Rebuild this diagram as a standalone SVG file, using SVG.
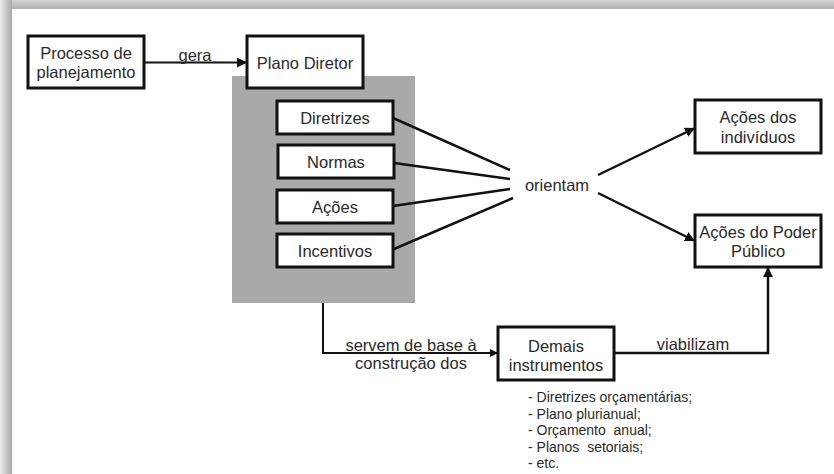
<svg xmlns="http://www.w3.org/2000/svg" width="834" height="474" viewBox="0 0 834 474">
<defs>
<linearGradient id="gTop" x1="0" y1="0" x2="0" y2="1">
<stop offset="0" stop-color="#d2d2d2"/><stop offset="1" stop-color="#b0b0b0"/>
</linearGradient>
<linearGradient id="gLeft" x1="0" y1="0" x2="1" y2="0">
<stop offset="0" stop-color="#ececec"/><stop offset="1" stop-color="#a8a8a8"/>
</linearGradient>
<marker id="ah" viewBox="0 0 10 10" refX="10" refY="5" markerWidth="10" markerHeight="10" markerUnits="userSpaceOnUse" orient="auto">
<path d="M0,0 L10,5 L0,10 z" fill="#111"/>
</marker>
<marker id="ahs" viewBox="0 0 10 10" refX="10" refY="5" markerWidth="8" markerHeight="8" markerUnits="userSpaceOnUse" orient="auto">
<path d="M0,0 L10,5 L0,10 z" fill="#111"/>
</marker>
</defs>
<style>
.box{fill:#fff;stroke:#111;stroke-width:3}
.t{font-family:"Liberation Sans",Arial,sans-serif;font-size:16.5px;fill:#2a2a2a;text-anchor:middle}
.l{font-family:"Liberation Sans",Arial,sans-serif;font-size:14px;fill:#2a2a2a;white-space:pre}
.c{fill:none;stroke:#111;stroke-width:2.5}
.c2{fill:none;stroke:#111;stroke-width:2}
</style>
<rect x="0" y="0" width="834" height="474" fill="#fff"/>
<rect x="0" y="0" width="834" height="9" fill="url(#gTop)"/>
<rect x="0" y="0" width="12" height="474" fill="url(#gLeft)"/>
<rect x="12" y="9" width="822" height="465" fill="#fff"/>

<g id="grupo-plano">
<rect x="232" y="76" width="183" height="227" fill="#a9a9a9"/>
</g>

<g id="connectors">
<line class="c2" x1="144" y1="62.5" x2="247" y2="62.5" marker-end="url(#ah)"/>
<line class="c" x1="393" y1="118" x2="510" y2="170"/>
<line class="c" x1="394" y1="163" x2="510" y2="179"/>
<line class="c" x1="393" y1="206" x2="510" y2="189"/>
<line class="c" x1="394" y1="249" x2="513" y2="198"/>
<line class="c" x1="598" y1="175" x2="695" y2="128" marker-end="url(#ah)"/>
<line class="c" x1="598" y1="193" x2="695" y2="241" marker-end="url(#ah)"/>
<polyline class="c2" points="323,303 323,353 498,353" marker-end="url(#ahs)"/>
<polyline class="c" points="614,353 768,353 768,267" marker-end="url(#ah)"/>
</g>

<g id="processo">
<rect class="box" x="28" y="36" width="116" height="52"/>
<text class="t" x="86" y="59">Processo de</text>
<text class="t" x="86" y="78">planejamento</text>
</g>
<text class="t" x="195" y="61">gera</text>

<g id="plano-diretor">
<rect class="box" x="247" y="36" width="116" height="52"/>
<text class="t" x="305" y="69">Plano Diretor</text>
</g>

<g id="diretrizes">
<rect class="box" x="277" y="101" width="116" height="33"/>
<text class="t" x="335" y="123.5">Diretrizes</text>
</g>
<g id="normas">
<rect class="box" x="278" y="145" width="116" height="33"/>
<text class="t" x="336" y="167.5">Normas</text>
</g>
<g id="acoes">
<rect class="box" x="277" y="190" width="116" height="33"/>
<text class="t" x="335" y="212.5">Ações</text>
</g>
<g id="incentivos">
<rect class="box" x="277" y="234" width="116" height="33"/>
<text class="t" x="335" y="256.5">Incentivos</text>
</g>

<g id="orientam">
<text class="t" x="557" y="191">orientam</text>
</g>

<g id="acoes-individuos">
<rect class="box" x="695" y="100" width="126" height="53"/>
<text class="t" x="758" y="123">Ações dos</text>
<text class="t" x="758" y="143">indivíduos</text>
</g>

<g id="acoes-poder-publico">
<rect class="box" x="695" y="215" width="126" height="52"/>
<text class="t" x="758" y="238">Ações do Poder</text>
<text class="t" x="758" y="257">Público</text>
</g>

<g id="demais-instrumentos">
<rect class="box" x="498" y="327" width="116" height="53"/>
<text class="t" x="556" y="352">Demais</text>
<text class="t" x="556" y="371">instrumentos</text>
</g>

<text class="t" x="411" y="351">servem de base à</text>
<text class="t" x="411" y="369">construção dos</text>
<text class="t" x="693" y="350">viabilizam</text>

<g id="lista">
<text class="l" x="528" y="402">- Diretrizes orçamentárias;</text>
<text class="l" x="528" y="418.5">- Plano plurianual;</text>
<text class="l" x="528" y="435" xml:space="preserve">- Orçamento  anual;</text>
<text class="l" x="528" y="451.5" xml:space="preserve">- Planos  setoriais;</text>
<text class="l" x="528" y="468">- etc.</text>
</g>
</svg>
